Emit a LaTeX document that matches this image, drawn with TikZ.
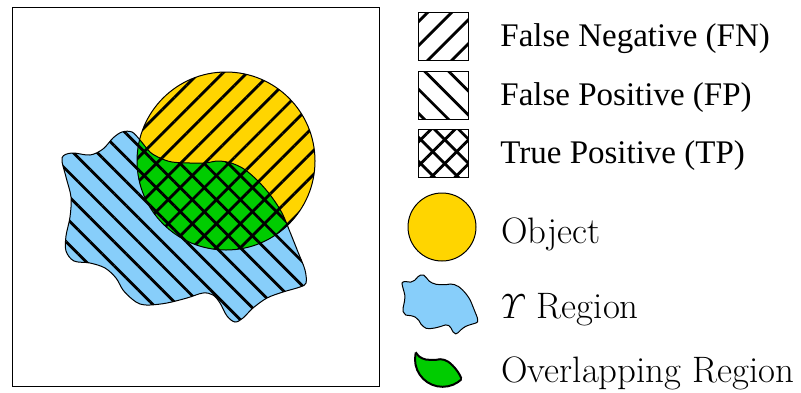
\documentclass[tikz,border=0pt]{standalone}
\usepackage{amsmath}
\usepackage{fontspec}
\usepackage{tikz}
\usetikzlibrary{positioning}
\usetikzlibrary{patterns,patterns.meta}
\newfontfamily\timesfont{Liberation Serif}

\definecolor{objyellow}{RGB}{255,213,0}
\definecolor{regblue}{RGB}{135,206,250}
\definecolor{tpgreen}{RGB}{0,204,0}

\tikzset{
  fnhatch/.style={pattern={Lines[angle=45,distance=8.5pt,line width=1.4pt]}},
  fphatch/.style={pattern={Lines[angle=-45,distance=8.5pt,line width=1.4pt]}},
  legbox/.style={draw, line width=0.5pt, minimum width=25pt, minimum height=24pt, inner sep=0pt},
  timeslbl/.style={anchor=base west, inner sep=0pt, font=\timesfont\fontsize{16.5}{18}\selectfont},
  lmlbl/.style={anchor=base west, inner sep=0pt, font=\fontsize{18.4}{20}\selectfont},
}

% outline of the region, reused for the legend mark
\newcommand{\ypath}{plot[smooth cycle, tension=0.55] coordinates {
  (62,158) (72,153) (90,155) (103,149) (113,138) (122,132) (132,132) (140,140)
  (150,152) (160,158) (172,162) (190,163) (205,163) (218,161) (231,163) (244,169)
  (258,181) (271,196) (282,213) (290,232) (298,252) (305,270) (306,283) (300,287)
  (283,292) (267,298) (253,308) (243,318) (235,322) (227,316) (220,303) (213,295)
  (203,293) (187,298) (167,303) (150,305) (140,304) (132,299) (123,290) (116,278)
  (105,268) (90,263) (74,261) (66,251) (66,236) (70,217) (71,197) (66,177)}}
\newcommand{\objpath}{(226,161) circle[radius=89]}

\begin{document}
\begin{tikzpicture}[x=0.5pt,y=-0.5pt]
\useasboundingbox (0,0) rectangle (801,392);
\draw[line width=0.5pt] (12,7) rectangle (379,386);

% region and object
\fill[regblue] \ypath;
\fill[fphatch] \ypath;
\fill[objyellow] \objpath;
\fill[fnhatch] \objpath;
\begin{scope}
\clip \objpath;
\fill[tpgreen] \ypath;
\fill[fnhatch] \ypath;
\fill[fphatch] \ypath;
\end{scope}
\draw[line width=0.5pt] \ypath;
\draw[line width=0.5pt] \objpath;

% legend
\node[legbox, fnhatch] (fnbox) at (443,36) {};
\node[legbox, fphatch] (fpbox) at (443,95) {};
\node[legbox, fnhatch, postaction={fphatch}] (tpbox) at (443,153) {};
\node[timeslbl] (fnlbl) at (500,46) {False Negative (FN)};
\node[timeslbl] (fplbl) at (500,105) {False Positive (FP)};
\node[timeslbl] (tplbl) at (500,163) {True Positive (TP)};

\node[circle, draw, line width=0.5pt, fill=objyellow, minimum size=34pt, inner sep=0pt] (objmark) at (442,227) {};
\node[lmlbl] (objlbl) at (501,243) {Object};

\begin{scope}[shift={(402,275)}, scale=0.31, shift={(-62,-132)}]
\draw[line width=0.5pt, fill=regblue] \ypath;
\end{scope}
\node[lmlbl] (reglbl) at (501,318) {$\varUpsilon$ Region};

\begin{scope}[shift={(415,353)}, scale=0.31, shift={(-137,-141)}]
\begin{scope}
\clip \ypath;
\fill[tpgreen] \objpath;
\draw[line width=1pt] \objpath;
\end{scope}
\begin{scope}
\clip \objpath;
\draw[line width=1pt] \ypath;
\end{scope}
\end{scope}
\node[lmlbl] (ovllbl) at (501,382) {Overlapping Region};
\end{tikzpicture}
\end{document}
